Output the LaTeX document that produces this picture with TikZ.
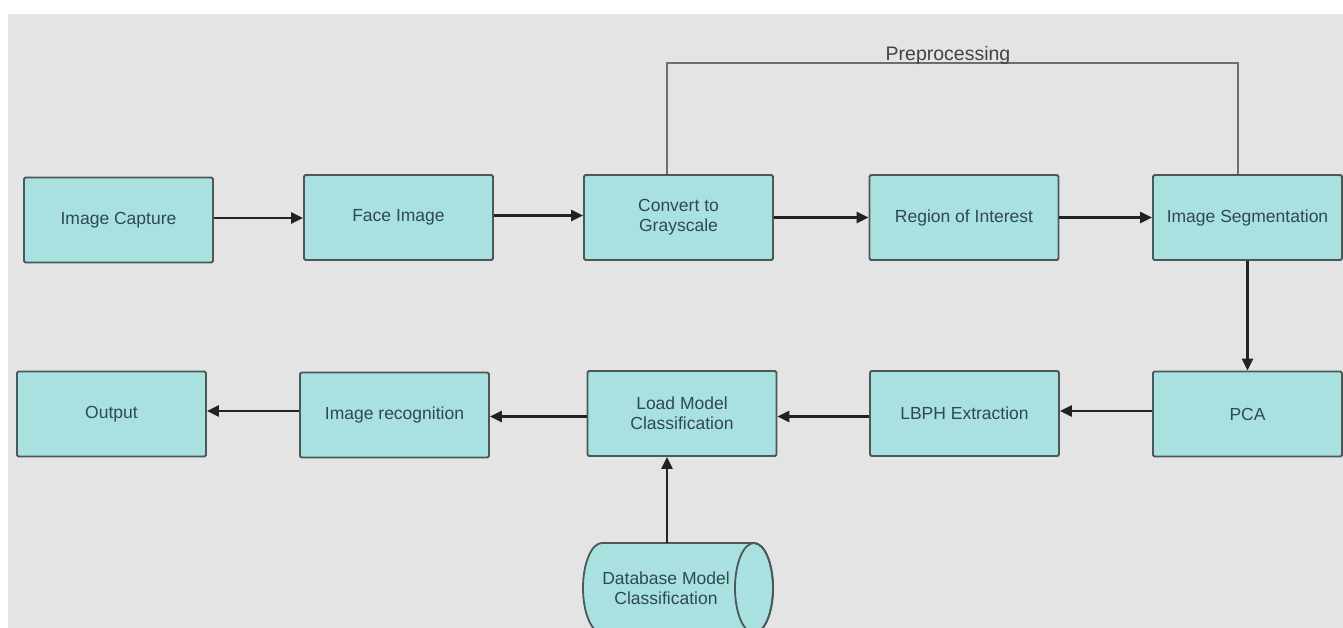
\documentclass[tikz,border=0pt]{standalone}
\usepackage{fontspec}
\setmainfont{Liberation Sans}
\usetikzlibrary{arrows.meta}
\definecolor{bgc}{HTML}{E4E4E4}
\definecolor{boxfill}{HTML}{A9E1E0}
\definecolor{boxline}{HTML}{4A5858}
\definecolor{txt}{HTML}{2E4A4E}
\definecolor{arrc}{HTML}{222222}
\definecolor{pre}{HTML}{6E6E6E}
\tikzset{
  procbox/.style={draw=boxline, line width=1.8pt, fill=boxfill, rounded corners=1.5pt,
    minimum width=189pt, minimum height=85pt, inner sep=0pt, align=center,
    text=txt, font=\fontsize{17.5}{20}\selectfont},
  flow/.style={draw=arrc, line width=2.4pt, -{Triangle[length=12pt,width=11pt]}},
  preline/.style={draw=pre, line width=1.6pt}
}
\begin{document}
\begin{tikzpicture}[x=1pt,y=-1pt]
\useasboundingbox (0,0) rectangle (1343,628);
\clip (0,0) rectangle (1343,628);
\fill[white] (0,0) rectangle (1343,628);
\fill[bgc] (8,14) rectangle (1343,628);

% top row
\node[procbox] (cap) at (118.5,220) {Image Capture};
\node[procbox] (face) at (398.5,217.5) {Face Image};
\node[procbox] (gray) at (678.5,217.5) {Convert to\\Grayscale};
\node[procbox] (roi) at (964,217.5) {Region of Interest};
\node[procbox] (seg) at (1247.5,217.5) {Image Segmentation};

% bottom row
\node[procbox] (pca) at (1247.5,414) {PCA};
\node[procbox] (lbph) at (964.5,413.5) {LBPH Extraction};
\node[procbox] (load) at (682,413.5) {Load Model\\Classification};
\node[procbox] (rec) at (394.5,415) {Image recognition};
\node[procbox] (out) at (111.5,414) {Output};

% database cylinder
\path[fill=boxfill, draw=boxline, line width=1.8pt]
  (602,543) -- (754,543) arc[start angle=-90, end angle=90, x radius=19, y radius=45]
  -- (602,633) arc[start angle=90, end angle=270, x radius=19, y radius=45] -- cycle;
\draw[boxline, line width=1.8pt] (754,588) ellipse[x radius=19, y radius=45];
\node[align=center, text=txt, font=\fontsize{17.5}{20}\selectfont, inner sep=0pt] (db) at (666,588) {Database Model\\Classification};
\coordinate (dbtop) at (667,543);

% flow arrows
\draw[flow] ([yshift=2pt]cap.east) -- ([yshift=2pt]cap.east -| face.west);
\draw[flow] ([yshift=2pt]face.east) -- ([yshift=2pt]face.east -| gray.west);
\draw[flow] (gray.east) -- (roi.west);
\draw[flow] (roi.east) -- (seg.west);
\draw[flow] (seg.south) -- (pca.north);
\draw[flow] ([yshift=3pt]pca.west) -- ([yshift=3pt]pca.west -| lbph.east);
\draw[flow] ([yshift=-3pt]lbph.west) -- ([yshift=-3pt]lbph.west -| load.east);
\draw[flow] ([yshift=-3pt]load.west) -- ([yshift=-3pt]load.west -| rec.east);
\draw[flow] ([yshift=4pt]rec.west) -- ([yshift=4pt]rec.west -| out.east);
\draw[flow] (dbtop) -- (dbtop |- load.south);

% preprocessing loop
\coordinate (pl) at (667,63);
\coordinate (pr) at (1238,63);
\draw[preline] (pl |- gray.north) -- (pl) -- (pr) -- (pr |- seg.north);
\node[anchor=base, text=arrc!85, font=\fontsize{19.5}{22}\selectfont, inner sep=0pt] (prelabel) at (948,61) {Preprocessing};
\end{tikzpicture}
\end{document}
